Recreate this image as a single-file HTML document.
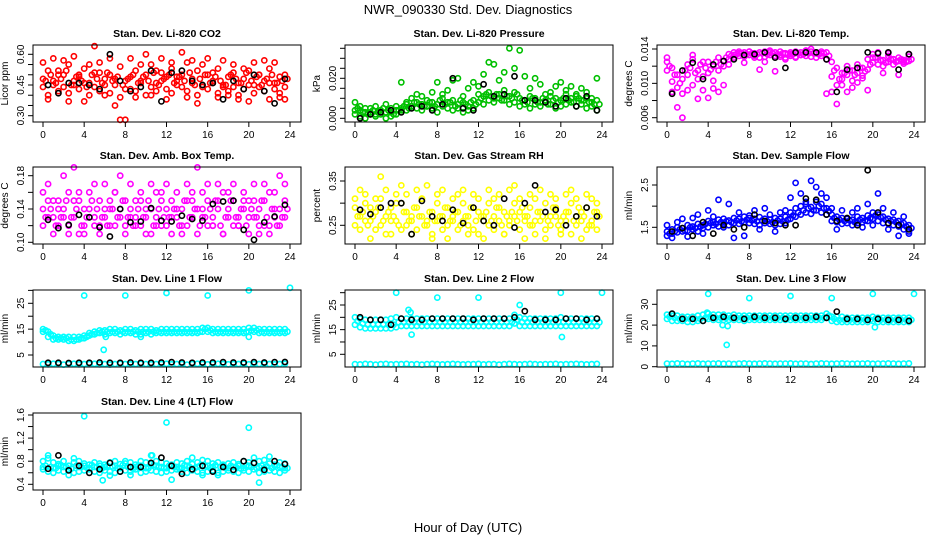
<!DOCTYPE html>
<html><head><meta charset="utf-8"><style>
body{margin:0;background:#fff;}
svg{display:block;font-family:"Liberation Sans",Arial,sans-serif;}
</style></head><body>
<svg id="chart" width="936" height="540" viewBox="0 0 936 540">
<rect width="936" height="540" fill="#fff"/>
<text x="468" y="14" text-anchor="middle" font-size="13">NWR_090330  Std. Dev. Diagnostics</text>
<text x="468" y="532" text-anchor="middle" font-size="13">Hour of Day (UTC)</text>
</svg>
<script>
const H = [0,0.5,1,1.5,2,2.5,3,3.5,4,4.5,5,5.5,6,6.5,7,7.5,8,8.5,9,9.5,10,10.5,11,11.5,12,12.5,13,13.5,14,14.5,15,15.5,16,16.5,17,17.5,18,18.5,19,19.5,20,20.5,21,21.5,22,22.5,23,23.5];
const H2 = [0.25,0.75,1.25,1.75,2.25,2.75,3.25,3.75,4.25,4.75,5.25,5.75,6.25,6.75,7.25,7.75,8.25,8.75,9.25,9.75,10.25,10.75,11.25,11.75,12.25,12.75,13.25,13.75,14.25,14.75,15.25,15.75,16.25,16.75,17.25,17.75,18.25,18.75,19.25,19.75,20.25,20.75,21.25,21.75,22.25,22.75,23.25,23.75];
const KH = [0.5,1.5,2.5,3.5,4.5,5.5,6.5,7.5,8.5,9.5,10.5,11.5,12.5,13.5,14.5,15.5,16.5,17.5,18.5,19.5,20.5,21.5,22.5,23.5];
const xTicks = [0,4,8,12,16,20,24];

const co2A = [0.48,0.52,0.45,0.50,0.44,0.55,0.47,0.49,0.53,0.46,0.51,0.56,0.45,0.50,0.48,0.54,0.43,0.49,0.52,0.47,0.50,0.55,0.46,0.51,0.49,0.53,0.47,0.50,0.56,0.48,0.52,0.45,0.50,0.47,0.53,0.44,0.49,0.51,0.46,0.48,0.52,0.45,0.50,0.47,0.53,0.46,0.49,0.50];
const co2B = [0.44,0.40,0.47,0.42,0.50,0.41,0.45,0.43,0.46,0.40,0.44,0.42,0.48,0.41,0.45,0.39,0.47,0.43,0.42,0.46,0.40,0.44,0.42,0.47,0.43,0.41,0.45,0.44,0.42,0.46,0.40,0.44,0.43,0.46,0.41,0.45,0.42,0.44,0.40,0.43,0.45,0.41,0.44,0.42,0.46,0.43,0.41,0.44];
const co2C = [0.56,0.38,0.58,0.52,0.57,0.37,0.59,0.50,0.37,0.55,0.64,0.51,0.40,0.58,0.35,0.28,0.28,0.58,0.39,0.55,0.60,0.40,0.52,0.58,0.38,0.56,0.49,0.61,0.39,0.57,0.36,0.55,0.58,0.51,0.39,0.57,0.40,0.55,0.38,0.53,0.37,0.56,0.50,0.57,0.38,0.56,0.39,0.38];
const co2D = [0.47,0.50,0.46,0.48,0.52,0.45,0.49,0.47,0.44,0.50,0.48,0.46,0.51,0.47,0.49,0.45,0.48,0.50,0.46,0.49,0.47,0.51,0.45,0.48,0.50,0.46,0.49,0.47,0.51,0.45,0.48,0.50,0.46,0.49,0.47,0.45,0.50,0.48,0.46,0.51,0.47,0.49,0.45,0.48,0.50,0.46,0.47,0.48];
const co2K = [0.45,0.41,0.46,0.46,0.45,0.43,0.60,0.47,0.42,0.44,0.52,0.37,0.51,0.52,0.47,0.45,0.46,0.38,0.47,0.43,0.50,0.42,0.36,0.48];
const prA = [0.008,0.004,0.003,0.005,0.002,0.004,0.003,0.005,0.006,0.004,0.007,0.006,0.008,0.007,0.009,0.008,0.007,0.010,0.008,0.009,0.007,0.008,0.006,0.009,0.012,0.011,0.013,0.010,0.012,0.014,0.011,0.013,0.010,0.009,0.011,0.010,0.008,0.009,0.011,0.010,0.009,0.012,0.010,0.011,0.009,0.010,0.008,0.009];
const prB = [0.002,0.001,0.000,0.003,0.001,0.002,0.000,0.003,0.002,0.005,0.004,0.006,0.005,0.004,0.006,0.005,0.003,0.006,0.005,0.004,0.005,0.003,0.004,0.005,0.008,0.007,0.009,0.008,0.010,0.009,0.007,0.008,0.006,0.007,0.005,0.007,0.006,0.008,0.007,0.005,0.006,0.007,0.008,0.006,0.007,0.005,0.006,0.004];
const prC = [0.004,0.006,0.005,0.002,0.006,0.003,0.007,0.001,0.004,0.018,0.008,0.010,0.012,0.011,0.006,0.013,0.018,0.012,0.014,0.019,0.020,0.011,0.015,0.018,0.016,0.022,0.028,0.027,0.019,0.023,0.035,0.025,0.034,0.021,0.015,0.020,0.017,0.012,0.013,0.016,0.018,0.014,0.016,0.012,0.015,0.013,0.010,0.020];
const prD = [0.005,0.003,0.002,0.004,0.003,0.005,0.004,0.002,0.004,0.006,0.005,0.008,0.007,0.006,0.008,0.006,0.009,0.007,0.008,0.006,0.009,0.007,0.008,0.007,0.010,0.012,0.011,0.012,0.009,0.011,0.010,0.012,0.009,0.008,0.010,0.008,0.010,0.007,0.009,0.008,0.010,0.009,0.008,0.010,0.009,0.008,0.007,0.007];
const prK = [0.000,0.002,0.003,0.004,0.003,0.005,0.006,0.004,0.007,0.020,0.005,0.004,0.017,0.011,0.012,0.021,0.009,0.009,0.008,0.006,0.010,0.006,0.011,0.004];
const ltA = [0.0125,0.0118,0.0110,0.0105,0.0122,0.0128,0.0115,0.0108,0.0125,0.0120,0.0130,0.0126,0.0134,0.0136,0.0137,0.0136,0.0137,0.0135,0.0136,0.0137,0.0138,0.0136,0.0137,0.0135,0.0136,0.0137,0.0136,0.0138,0.0137,0.0136,0.0137,0.0136,0.0125,0.0118,0.0112,0.0120,0.0115,0.0122,0.0118,0.0128,0.0134,0.0130,0.0127,0.0132,0.0128,0.0130,0.0127,0.0131];
const ltB = [0.0115,0.0102,0.0095,0.0088,0.0110,0.0098,0.0105,0.0092,0.0112,0.0103,0.0115,0.0120,0.0128,0.0130,0.0132,0.0131,0.0133,0.0132,0.0130,0.0131,0.0133,0.0132,0.0131,0.0130,0.0132,0.0131,0.0133,0.0132,0.0131,0.0130,0.0132,0.0128,0.0108,0.0098,0.0105,0.0110,0.0103,0.0112,0.0109,0.0116,0.0124,0.0122,0.0120,0.0125,0.0122,0.0126,0.0123,0.0126];
const ltC = [0.0130,0.0090,0.0072,0.0060,0.0092,0.0133,0.0082,0.0125,0.0083,0.0094,0.0090,0.0098,0.0122,0.0133,0.0135,0.0124,0.0137,0.0130,0.0116,0.0125,0.0136,0.0114,0.0133,0.0128,0.0134,0.0130,0.0133,0.0138,0.0140,0.0135,0.0135,0.0088,0.0090,0.0076,0.0098,0.0090,0.0095,0.0101,0.0106,0.0092,0.0130,0.0136,0.0112,0.0135,0.0128,0.0110,0.0125,0.0134];
const ltD = [0.0120,0.0110,0.0100,0.0115,0.0118,0.0112,0.0122,0.0118,0.0116,0.0125,0.0122,0.0130,0.0132,0.0134,0.0135,0.0134,0.0135,0.0134,0.0135,0.0134,0.0135,0.0134,0.0135,0.0134,0.0134,0.0135,0.0134,0.0135,0.0135,0.0134,0.0135,0.0132,0.0115,0.0105,0.0112,0.0115,0.0110,0.0118,0.0114,0.0122,0.0130,0.0127,0.0124,0.0128,0.0125,0.0128,0.0125,0.0128];
const ltK = [0.0088,0.0115,0.0124,0.0105,0.0122,0.0126,0.0128,0.0133,0.0134,0.0136,0.0130,0.0118,0.0136,0.0136,0.0136,0.0128,0.0090,0.0116,0.0118,0.0136,0.0135,0.0136,0.0116,0.0134];
const abA = [0.14,0.13,0.15,0.12,0.14,0.16,0.13,0.15,0.12,0.14,0.13,0.15,0.14,0.12,0.16,0.13,0.15,0.14,0.12,0.15,0.13,0.14,0.16,0.12,0.14,0.15,0.13,0.14,0.12,0.16,0.14,0.13,0.15,0.12,0.14,0.16,0.13,0.15,0.12,0.14,0.13,0.15,0.14,0.12,0.16,0.13,0.14,0.13];
const abB = [0.12,0.15,0.11,0.14,0.13,0.12,0.15,0.11,0.14,0.13,0.12,0.11,0.13,0.15,0.12,0.14,0.11,0.13,0.15,0.12,0.14,0.11,0.13,0.15,0.12,0.11,0.14,0.12,0.15,0.13,0.11,0.14,0.12,0.13,0.15,0.11,0.14,0.12,0.13,0.15,0.11,0.13,0.12,0.15,0.11,0.14,0.12,0.15];
const abC = [0.16,0.17,0.13,0.15,0.18,0.11,0.19,0.16,0.11,0.16,0.17,0.12,0.17,0.14,0.16,0.18,0.12,0.17,0.13,0.16,0.11,0.17,0.12,0.16,0.17,0.13,0.16,0.11,0.17,0.15,0.19,0.16,0.17,0.12,0.17,0.11,0.16,0.17,0.12,0.16,0.15,0.17,0.11,0.17,0.12,0.16,0.18,0.17];
const abD = [0.13,0.14,0.12,0.13,0.15,0.13,0.14,0.12,0.13,0.15,0.14,0.13,0.12,0.14,0.13,0.15,0.13,0.12,0.14,0.13,0.15,0.12,0.14,0.13,0.13,0.14,0.12,0.15,0.13,0.14,0.12,0.13,0.14,0.15,0.12,0.13,0.15,0.13,0.14,0.12,0.14,0.13,0.15,0.13,0.14,0.12,0.13,0.14];
const abK = [0.127,0.117,0.121,0.133,0.130,0.118,0.107,0.140,0.124,0.125,0.141,0.126,0.125,0.132,0.128,0.126,0.146,0.149,0.150,0.115,0.103,0.124,0.131,0.145];
const rhA = [0.29,0.27,0.30,0.26,0.28,0.31,0.27,0.29,0.26,0.30,0.28,0.27,0.29,0.31,0.26,0.28,0.30,0.27,0.29,0.26,0.28,0.30,0.27,0.29,0.28,0.26,0.30,0.27,0.29,0.28,0.26,0.30,0.28,0.27,0.29,0.26,0.28,0.30,0.27,0.29,0.26,0.28,0.30,0.27,0.28,0.29,0.26,0.28];
const rhB = [0.25,0.24,0.26,0.29,0.24,0.25,0.23,0.26,0.30,0.24,0.25,0.26,0.24,0.27,0.25,0.23,0.26,0.24,0.25,0.27,0.24,0.26,0.25,0.24,0.23,0.27,0.25,0.24,0.26,0.23,0.25,0.27,0.24,0.26,0.25,0.23,0.26,0.24,0.25,0.27,0.24,0.26,0.23,0.25,0.26,0.24,0.25,0.24];
const rhC = [0.31,0.33,0.32,0.22,0.31,0.36,0.33,0.23,0.32,0.34,0.32,0.23,0.33,0.31,0.34,0.22,0.32,0.33,0.22,0.31,0.32,0.33,0.23,0.32,0.31,0.22,0.33,0.31,0.32,0.23,0.33,0.34,0.31,0.22,0.32,0.31,0.33,0.22,0.32,0.31,0.23,0.32,0.33,0.31,0.22,0.32,0.31,0.30];
const rhD = [0.27,0.28,0.25,0.27,0.29,0.26,0.28,0.27,0.25,0.28,0.26,0.29,0.27,0.25,0.28,0.26,0.27,0.29,0.26,0.28,0.25,0.27,0.29,0.26,0.27,0.28,0.26,0.29,0.25,0.27,0.28,0.26,0.29,0.27,0.25,0.28,0.27,0.26,0.29,0.25,0.27,0.28,0.26,0.29,0.27,0.25,0.28,0.27];
const rhK = [0.285,0.275,0.290,0.300,0.300,0.230,0.305,0.270,0.260,0.285,0.255,0.290,0.260,0.250,0.310,0.245,0.300,0.340,0.280,0.285,0.250,0.270,0.290,0.270];
const sfA = [1.40,1.45,1.50,1.48,1.55,1.52,1.58,1.55,1.65,1.62,1.68,1.70,1.66,1.72,1.70,1.75,1.72,1.70,1.74,1.70,1.68,1.72,1.70,1.75,1.85,1.95,2.00,2.05,1.98,2.10,2.05,1.95,1.80,1.75,1.72,1.70,1.68,1.75,1.72,1.78,1.85,1.80,1.75,1.70,1.68,1.65,1.60,1.55];
const sfB = [1.30,1.35,1.38,1.40,1.42,1.45,1.40,1.48,1.50,1.55,1.52,1.58,1.55,1.60,1.58,1.62,1.60,1.58,1.55,1.60,1.58,1.55,1.58,1.60,1.70,1.75,1.80,1.85,1.82,1.90,1.85,1.80,1.65,1.62,1.58,1.60,1.55,1.60,1.62,1.65,1.70,1.65,1.60,1.58,1.55,1.52,1.45,1.40];
const sfC = [1.55,1.25,1.62,1.70,1.28,1.72,1.80,1.35,1.90,1.75,2.15,1.50,2.05,1.25,1.85,1.30,1.78,1.90,1.45,1.95,1.80,1.40,1.85,1.90,2.20,2.55,2.30,2.10,2.60,2.45,2.30,2.20,1.95,1.45,1.90,1.70,1.85,1.95,1.50,2.05,1.55,2.30,1.95,1.45,1.85,1.30,1.75,1.35];
const sfD = [1.35,1.40,1.45,1.42,1.50,1.48,1.52,1.58,1.60,1.58,1.62,1.64,1.62,1.66,1.64,1.68,1.66,1.64,1.66,1.64,1.62,1.66,1.64,1.68,1.78,1.85,1.90,1.95,1.90,2.00,1.95,1.88,1.72,1.68,1.65,1.66,1.62,1.68,1.66,1.72,1.78,1.74,1.68,1.65,1.62,1.58,1.52,1.48];
const sfK = [1.40,1.48,1.30,1.62,1.35,1.55,1.45,1.50,1.80,1.65,1.60,1.55,1.55,2.18,2.15,1.80,1.65,1.72,1.55,2.85,1.85,1.60,1.55,1.45];
const l1A = [15,14,12.5,12,12,12,12,12,12.5,13.5,14,14.5,14.5,15,15,14.5,15,15,14.5,15,15,15,14.5,15,15,15,15,15,15,15,15,15.5,15.5,15,15,15,15,15,15,15,15.5,15.5,15,15,15,15,15,15];
const l1B = [14,12,11,11,11,10.5,10.5,11,11.5,12.5,13,13.5,13,13.5,13.5,13,13.5,13.5,13,13,13.5,13,13.5,13.5,13.5,13.5,13.5,13.5,13.5,13.5,13.5,14,14,13.5,13.5,13.5,13.5,13.5,13.5,13.5,14,14,13.5,13.5,13.5,13.5,13.5,13.5];
const l1C = [1.5,1.4,1.6,1.5,1.3,1.5,1.6,1.4,1.5,1.5,1.6,1.4,1.5,1.3,1.5,1.6,1.5,1.4,1.5,1.6,1.5,1.4,1.5,1.5,1.6,1.4,1.5,1.5,1.3,1.5,1.6,1.5,1.4,1.5,1.6,1.5,1.4,1.5,1.5,1.6,1.4,1.5,1.5,1.6,1.5,1.4,1.5,1.6];
const l1D = [14.5,13,11.5,11.5,11.5,11,11,11.5,12,13,13.5,14,14,14,14,14,14,14,14,14,14,14,14,14,14,14,14,14,14,14,14,15,14.5,14,14,14,14,14,14,14,14.5,14.5,14,14,14,14,14,14];
const l1K = [2.0,2.0,1.9,2.0,2.0,2.1,2.0,2.0,2.1,2.0,2.0,2.1,2.2,2.1,2.0,2.1,2.1,2.2,2.1,2.1,2.2,2.1,2.2,2.3];
const l1OX = [4,8,12,16,20,24,5.9,6.1,9.5,20];
const l1OY = [28,28,29,28,30,31,7,12,12,12];
const l2A = [20,19.5,19,19,19,19,19,19.5,20,19.5,19.5,19.5,19.5,19.5,19.5,19.5,19.5,19.5,19.5,19.5,19.5,19.5,19.5,19.5,19.5,19.5,19.5,19.5,19.5,19.5,19.5,21,20,19.5,19.5,19.5,19.5,19.5,19.5,19.5,20,19.5,19.5,19.5,19.5,19.5,19.5,19.5];
const l2B = [17,16,15.5,15.5,15.5,15.5,15.5,15.5,16,16.5,16.5,16.5,16.5,16.5,16.5,16.5,16.5,16.5,16.5,16.5,16.5,16.5,16.5,16.5,16.5,16.5,16.5,16.5,16.5,16.5,16.5,17.5,16.5,16.5,16.5,16.5,16.5,16.5,16.5,16.5,16.5,16.5,16.5,16.5,16.5,16.5,16.5,16.5];
const l2C = [1.0,0.9,1.1,1.0,0.8,1.0,1.1,0.9,1.0,1.0,1.1,0.9,1.0,0.8,1.0,1.1,1.0,0.9,1.0,1.1,1.0,0.9,1.0,1.0,1.1,0.9,1.0,1.0,0.8,1.0,1.1,1.0,0.9,1.0,1.1,1.0,0.9,1.0,1.0,1.1,0.9,1.0,1.0,1.1,1.0,0.9,1.0,1.1];
const l2D = [18.5,17.5,17,17,17,17,17,17,18,18,18,18,18,18,18,18,18,18,18,18,18,18,18,18,18,18,18,18,18,18,18,19,18,18,18,18,18,18,18,18,18,18,18,18,18,18,18,18];
const l2K = [20,19,19,17,19.5,19,19,19.5,19.5,19.5,19.5,19,19.5,19.5,19.5,20,22.5,19,19,19,19.5,19.5,19,19.5];
const l2OX = [4,8,12,16,20,24,5.2,5.4,5.5,20.1];
const l2OY = [30,28,28,25,30,30,23,22,13,12];
const l3A = [25,24.5,24.5,24,24,24,24.5,25,25.5,25,25,25,24.5,25,24.5,24.5,24.5,24.5,24.5,24.5,24.5,24.5,24.5,24.5,24.5,24.5,24.5,24.5,24.5,24.5,24.5,25.5,24,24,24,23.5,23.5,23.5,23.5,23.5,24,23.5,23.5,23.5,23.5,23.5,23.5,23.5];
const l3B = [23,22,22,22,21.5,21.5,22,22,23,22.5,22.5,22.5,22.5,22.5,22.5,22,22.5,22.5,22.5,22.5,22.5,22.5,22.5,22.5,22.5,22.5,22.5,22.5,22.5,22.5,22.5,23.5,22,21.5,21.5,21.5,21.5,21.5,21.5,21.5,22,21.5,21.5,21.5,21.5,21.5,21.5,21.5];
const l3C = [1.5,1.4,1.6,1.5,1.3,1.5,1.6,1.4,1.5,1.5,1.6,1.4,1.5,1.3,1.5,1.6,1.5,1.4,1.5,1.6,1.5,1.4,1.5,1.5,1.6,1.4,1.5,1.5,1.3,1.5,1.6,1.5,1.4,1.5,1.6,1.5,1.4,1.5,1.5,1.6,1.4,1.5,1.5,1.6,1.5,1.4,1.5,1.6];
const l3D = [24,23.5,23,23,23,23,23,23.5,24,23.5,23.5,23.5,23.5,23.5,23.5,23.5,23.5,23.5,23.5,23.5,23.5,23.5,23.5,23.5,23.5,23.5,23.5,23.5,23.5,23.5,23.5,24.5,23,22.5,22.5,22.5,22.5,22.5,22.5,22.5,23,22.5,22.5,22.5,22.5,22.5,22.5,22.5];
const l3K = [25.5,23,23,22,23.5,24,23.5,23,24,23.5,23.5,23,23.5,23.5,24,23.5,26.5,23,23,22.5,23,22.5,22.5,22];
const l3OX = [4,8,12,16,20,24,5.4,5.8,5.9,3.9,20.2];
const l3OY = [35,33,34,33,35,35,20,10.5,19.5,26,19];
const l4A = [0.80,0.85,0.78,0.75,0.80,0.72,0.78,0.80,0.76,0.74,0.78,0.76,0.74,0.78,0.80,0.75,0.76,0.78,0.74,0.80,0.78,0.75,0.80,0.78,0.76,0.74,0.78,0.76,0.80,0.75,0.78,0.82,0.80,0.76,0.78,0.74,0.76,0.78,0.75,0.80,0.78,0.76,0.80,0.82,0.76,0.74,0.78,0.76];
const l4B = [0.66,0.62,0.60,0.64,0.62,0.66,0.60,0.62,0.64,0.66,0.62,0.60,0.64,0.62,0.60,0.62,0.64,0.62,0.66,0.60,0.62,0.64,0.62,0.60,0.62,0.64,0.66,0.62,0.60,0.64,0.62,0.60,0.62,0.64,0.60,0.62,0.64,0.62,0.60,0.64,0.62,0.66,0.60,0.62,0.64,0.62,0.60,0.64];
const l4C = [0.70,0.90,0.68,0.72,0.70,0.56,0.85,0.70,0.72,0.68,0.70,0.72,0.70,0.55,0.72,0.68,0.80,0.56,0.70,0.72,0.68,0.90,0.72,0.70,0.68,0.72,0.70,0.68,0.72,0.86,0.70,0.56,0.72,0.70,0.56,0.72,0.68,0.70,0.72,0.68,0.72,0.86,0.70,0.68,0.88,0.72,0.70,0.68];
const l4D = [0.72,0.70,0.68,0.73,0.70,0.67,0.72,0.70,0.69,0.73,0.70,0.68,0.72,0.71,0.68,0.73,0.70,0.67,0.72,0.70,0.68,0.73,0.70,0.68,0.72,0.70,0.67,0.73,0.70,0.68,0.72,0.71,0.68,0.73,0.70,0.68,0.72,0.70,0.67,0.73,0.70,0.68,0.72,0.71,0.68,0.73,0.70,0.68];
const l4K = [0.67,0.90,0.64,0.72,0.60,0.66,0.77,0.62,0.70,0.70,0.77,0.86,0.72,0.58,0.66,0.72,0.62,0.70,0.65,0.80,0.77,0.65,0.80,0.75];
const l4OX = [4,12,20,5.8,12.5,21,10.6];
const l4OY = [1.58,1.47,1.38,0.47,0.48,0.43,0.90];

const colL = [33,345,657], rowT = [45,167,290,413], PW = 268, PH = 77;
const panels = [
 {id:'co2',title:'Stan. Dev. Li-820 CO2',yt:'Licor ppm',c:0,r:0,color:'#ff0000',ya:[0.30,115.7],yb:[0.60,54.3],ticks:[0.30,0.35,0.40,0.45,0.50,0.55,0.60],labels:['0.30','0.45','0.60'],s:[co2A,co2B,co2C],d:co2D,k:co2K},
 {id:'pressure',title:'Stan. Dev. Li-820 Pressure',yt:'kPa',c:1,r:0,color:'#00c000',ya:[0,118.3],yb:[0.020,78.3],ticks:[0,0.005,0.010,0.015,0.020,0.025,0.030,0.035],labels:['0.000','0.020'],s:[prA,prB,prC],d:prD,k:prK},
 {id:'licor-temp',title:'Stan. Dev. Li-820 Temp.',yt:'degrees C',c:2,r:0,color:'#ff00ff',ya:[0.006,117.7],yb:[0.014,49],ticks:[0.006,0.008,0.010,0.012,0.014],labels:['0.006','0.010','0.014'],s:[ltA,ltB,ltC],d:ltD,k:ltK},
 {id:'amb-box-temp',title:'Stan. Dev. Amb. Box Temp.',yt:'degrees C',c:0,r:1,color:'#ff00ff',ya:[0.10,242.3],yb:[0.18,175.7],ticks:[0.10,0.12,0.14,0.16,0.18],labels:['0.10','0.14','0.18'],s:[abA,abB,abC],d:abD,k:abK},
 {id:'gas-stream-rh',title:'Stan. Dev. Gas Stream RH',yt:'percent',c:1,r:1,color:'#ffff00',ya:[0.25,225.3],yb:[0.35,181],ticks:[0.25,0.30,0.35],labels:['0.25','0.35'],s:[rhA,rhB,rhC],d:rhD,k:rhK},
 {id:'sample-flow',title:'Stan. Dev. Sample Flow',yt:'ml/min',c:2,r:1,color:'#0000ff',ya:[1.5,227.3],yb:[2.5,185],ticks:[1.5,2.0,2.5],labels:['1.5','2.5'],s:[sfA,sfB,sfC],d:sfD,k:sfK},
 {id:'line1-flow',title:'Stan. Dev. Line 1 Flow',yt:'ml/min',c:0,r:2,color:'#00ffff',ya:[5,355],yb:[25,303.3],ticks:[5,10,15,20,25,30],labels:['5','15','25'],s:[l1A,l1B,l1C],d:l1D,k:l1K,ox:l1OX,oy:l1OY},
 {id:'line2-flow',title:'Stan. Dev. Line 2 Flow',yt:'ml/min',c:1,r:2,color:'#00ffff',ya:[5,354.3],yb:[25,305],ticks:[5,10,15,20,25,30],labels:['5','15','25'],s:[l2A,l2B,l2C],d:l2D,k:l2K,ox:l2OX,oy:l2OY},
 {id:'line3-flow',title:'Stan. Dev. Line 3 Flow',yt:'ml/min',c:2,r:2,color:'#00ffff',ya:[0,366.7],yb:[30,304.3],ticks:[0,10,20,30],labels:['0','10','20','30'],s:[l3A,l3B,l3C],d:l3D,k:l3K,ox:l3OX,oy:l3OY},
 {id:'line4-flow',title:'Stan. Dev. Line 4 (LT) Flow',yt:'ml/min',c:0,r:3,color:'#00ffff',ya:[0.4,484.3],yb:[1.6,415],ticks:[0.4,0.6,0.8,1.0,1.2,1.4,1.6],labels:['0.4','0.8','1.2','1.6'],s:[l4A,l4B,l4C],d:l4D,k:l4K,ox:l4OX,oy:l4OY}
];

const NS='http://www.w3.org/2000/svg';
const svg=document.getElementById('chart');
function mk(tag,attrs,parent){const e=document.createElementNS(NS,tag);for(const a in attrs)e.setAttribute(a,attrs[a]);parent.appendChild(e);return e;}
const RAD=2.6;

panels.forEach(p=>{
  const L=colL[p.c], T=rowT[p.r], B=T+PH, R=L+PW;
  const xs=h=>L+10+h*(247/24);
  const ys=v=>p.ya[1]+(v-p.ya[0])*(p.yb[1]-p.ya[1])/(p.yb[0]-p.ya[0]);
  const g=mk('g',{},svg);
  
  
  const t=mk('text',{x:(L+R)/2,y:T-8,'text-anchor':'middle','font-size':'10.5','font-weight':'bold'},g);
  t.textContent=p.title;
  
  
  const pts=mk('g',{fill:'none','stroke-width':'1.6'},g);
  
  
  p.s.forEach(arr=>{
    arr.forEach((v,i)=>{
      const c=mk('circle',{cx:xs(H[i]).toFixed(1),cy:ys(v).toFixed(1),r:RAD,stroke:p.color},pts);
      
      
    });
  });
  p.d.forEach((v,i)=>{
    const c=mk('circle',{cx:xs(H2[i]).toFixed(1),cy:ys(v).toFixed(1),r:RAD,stroke:p.color},pts);
    
    
  });
  if(p.ox){
    p.ox.forEach((h,i)=>{
      const c=mk('circle',{cx:xs(h).toFixed(1),cy:ys(p.oy[i]).toFixed(1),r:RAD,stroke:p.color},pts);
      
      
    });
  }
  p.k.forEach((v,i)=>{
    const c=mk('circle',{cx:xs(KH[i]).toFixed(1),cy:ys(v).toFixed(1),r:RAD,stroke:'#000'},pts);
    
    
  });
  const bx=mk('rect',{x:L,y:T,width:PW,height:PH,fill:'none',stroke:'#000','stroke-width':'1'},g);
  
  
  const xa=mk('g',{stroke:'#000','stroke-width':'1'},g);
  
  
  xTicks.forEach(h=>{
    mk('line',{x1:xs(h),x2:xs(h),y1:B,y2:B+5},xa);
    const tl=mk('text',{x:xs(h),y:B+16,'text-anchor':'middle','font-size':'10',stroke:'none',fill:'#000'},xa);
    tl.textContent=h;
    
    
  });
  const ya=mk('g',{stroke:'#000','stroke-width':'1'},g);
  
  
  p.ticks.forEach(v=>{
    const yy=ys(v);
    if(yy<T-1||yy>B+2)return;
    mk('line',{x1:L-5,x2:L,y1:yy,y2:yy},ya);
  });
  p.labels.forEach(lab=>{
    const yy=ys(parseFloat(lab));
    const tl=mk('text',{x:L-9,y:yy,'text-anchor':'middle','font-size':'10',stroke:'none',fill:'#000',transform:`rotate(-90 ${L-9} ${yy})`},ya);
    tl.textContent=lab;
    
    
  });
  const yt=mk('text',{x:L-25,y:(T+B)/2,'text-anchor':'middle','font-size':'10',transform:`rotate(-90 ${L-25} ${(T+B)/2})`},g);
  yt.textContent=p.yt;
  
  
});
</script>
</body></html>
